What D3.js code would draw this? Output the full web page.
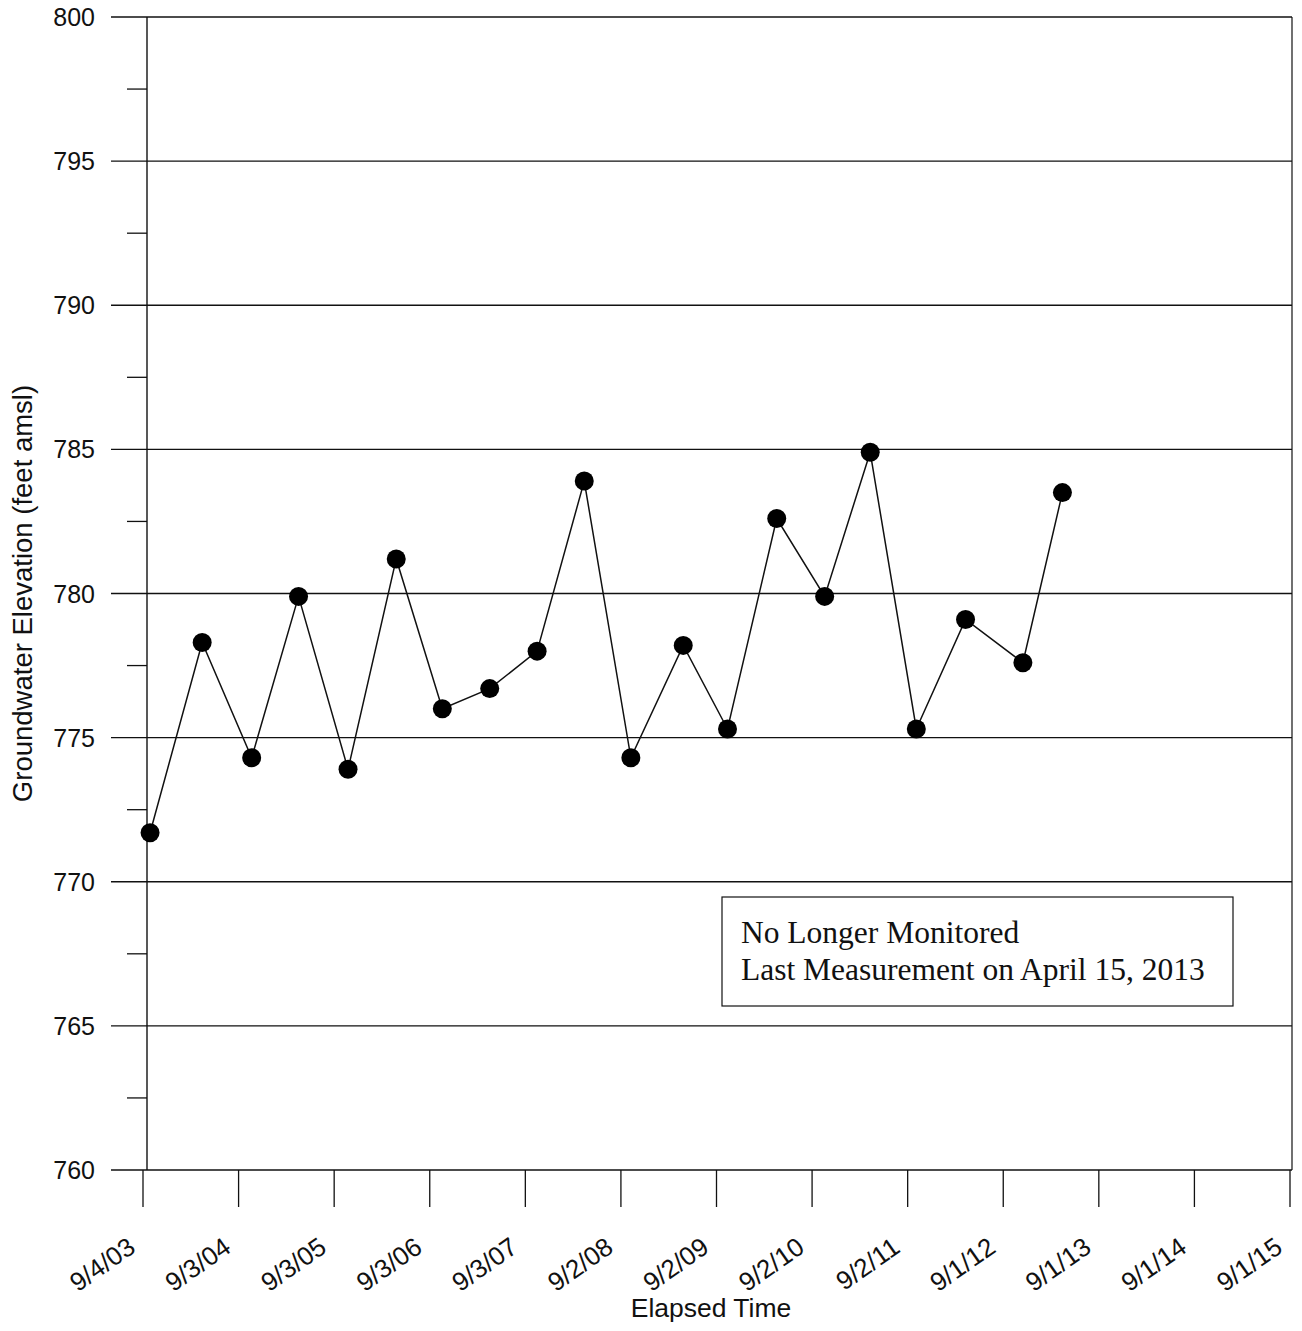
<!DOCTYPE html>
<html>
<head>
<meta charset="utf-8">
<script src="https://cdn.jsdelivr.net/npm/d3@7"></script>
<style>
  html, body { margin: 0; padding: 0; background: #fff; }
  svg { display: block; }
</style>
</head>
<body>
<svg id="chart" width="1302" height="1331"></svg>
<script>
// Semi-annual groundwater level readings
const sampleDates = [
  "2003-10-01", "2004-04-17", "2004-10-23", "2005-04-20", "2005-10-26",
  "2006-04-28", "2006-10-21", "2007-04-20", "2007-10-18", "2008-04-15",
  "2008-10-10", "2009-04-28", "2009-10-14", "2010-04-20", "2010-10-20",
  "2011-04-12", "2011-10-05", "2012-04-10", "2012-11-15", "2013-04-15"
];
const elevations = [
  771.7, 778.3, 774.3, 779.9, 773.9,
  781.2, 776.0, 776.7, 778.0, 783.9,
  774.3, 778.2, 775.3, 782.6, 779.9,
  784.9, 775.3, 779.1, 777.6, 783.5
];
const xTickLabels = [
  "9/4/03", "9/3/04", "9/3/05", "9/3/06", "9/3/07", "9/2/08", "9/2/09",
  "9/2/10", "9/2/11", "9/1/12", "9/1/13", "9/1/14", "9/1/15"
];
const yMajorTicks = [760, 765, 770, 775, 780, 785, 790, 795, 800];
const yMinorTicks = [762.5, 767.5, 772.5, 777.5, 782.5, 787.5, 792.5, 797.5];
const noteLines = ["No Longer Monitored", "Last Measurement on April 15, 2013"];

const parseIso = d3.timeParse("%Y-%m-%d");
const parseTick = d3.timeParse("%m/%d/%y");
const tickDates = xTickLabels.map(parseTick);

const svg = d3.select("#chart");
const ink = "#111";
const sans = "'Liberation Sans', Arial, sans-serif";

const plot = { left: 147, right: 1292, top: 17, bottom: 1170 };

const x = d3.scaleTime()
  .domain([tickDates[0], tickDates[tickDates.length - 1]])
  .range([143, 1290]);
const y = d3.scaleLinear()
  .domain([760, 800])
  .range([plot.bottom, plot.top]);

// horizontal gridlines, extended left of the axis as major ticks
svg.append("g")
  .selectAll("line")
  .data(yMajorTicks)
  .join("line")
  .attr("x1", plot.left - 36)
  .attr("x2", plot.right)
  .attr("y1", d => y(d))
  .attr("y2", d => y(d))
  .attr("stroke", ink)
  .attr("stroke-width", 1.3);

// minor ticks on the value axis
svg.append("g")
  .selectAll("line")
  .data(yMinorTicks)
  .join("line")
  .attr("x1", plot.left - 20)
  .attr("x2", plot.left)
  .attr("y1", d => y(d))
  .attr("y2", d => y(d))
  .attr("stroke", ink)
  .attr("stroke-width", 1.3);

// value axis labels
svg.append("g")
  .selectAll("text")
  .data(yMajorTicks)
  .join("text")
  .attr("x", 95)
  .attr("y", d => y(d))
  .attr("dy", "0.36em")
  .attr("text-anchor", "end")
  .attr("font-family", sans)
  .attr("font-size", 25)
  .attr("fill", ink)
  .text(d => d);

// left axis line and right frame
svg.append("line")
  .attr("x1", plot.left).attr("x2", plot.left)
  .attr("y1", plot.top).attr("y2", plot.bottom)
  .attr("stroke", ink).attr("stroke-width", 1.4);
svg.append("line")
  .attr("x1", plot.right).attr("x2", plot.right)
  .attr("y1", plot.top).attr("y2", plot.bottom)
  .attr("stroke", ink).attr("stroke-width", 1.2);

// time axis ticks
svg.append("g")
  .selectAll("line")
  .data(tickDates)
  .join("line")
  .attr("x1", d => x(d))
  .attr("x2", d => x(d))
  .attr("y1", plot.bottom)
  .attr("y2", plot.bottom + 37)
  .attr("stroke", ink)
  .attr("stroke-width", 1.3);

// slanted time axis labels
svg.append("g")
  .selectAll("text")
  .data(tickDates)
  .join("text")
  .attr("transform", d => `translate(${x(d) - 6},1251) rotate(-35)`)
  .attr("text-anchor", "end")
  .attr("font-family", sans)
  .attr("font-size", 26)
  .attr("fill", ink)
  .text((d, i) => xTickLabels[i]);

// axis titles
svg.append("text")
  .attr("x", 711)
  .attr("y", 1317)
  .attr("text-anchor", "middle")
  .attr("font-family", sans)
  .attr("font-size", 26.5)
  .attr("fill", ink)
  .text("Elapsed Time");

svg.append("text")
  .attr("transform", `translate(32,${(plot.top + plot.bottom) / 2}) rotate(-90)`)
  .attr("text-anchor", "middle")
  .attr("font-family", sans)
  .attr("font-size", 27.5)
  .attr("fill", ink)
  .text("Groundwater Elevation (feet amsl)");

// elevation series
const series = sampleDates.map((d, i) => ({ date: parseIso(d), value: elevations[i] }));

svg.append("path")
  .datum(series)
  .attr("fill", "none")
  .attr("stroke", ink)
  .attr("stroke-width", 1.5)
  .attr("d", d3.line().x(d => x(d.date)).y(d => y(d.value)));

svg.append("g")
  .selectAll("circle")
  .data(series)
  .join("circle")
  .attr("cx", d => x(d.date))
  .attr("cy", d => y(d.value))
  .attr("r", 9.5)
  .attr("fill", "#000");

// status note
const note = svg.append("g").attr("transform", "translate(722,897)");
note.append("rect")
  .attr("width", 511)
  .attr("height", 109)
  .attr("fill", "#fff")
  .attr("stroke", ink)
  .attr("stroke-width", 1.2);
note.selectAll("text")
  .data(noteLines)
  .join("text")
  .attr("x", 19)
  .attr("y", (d, i) => 46 + i * 37)
  .attr("font-family", "'Liberation Serif', 'Times New Roman', serif")
  .attr("font-size", 31.5)
  .attr("fill", ink)
  .text(d => d);
</script>
</body>
</html>
